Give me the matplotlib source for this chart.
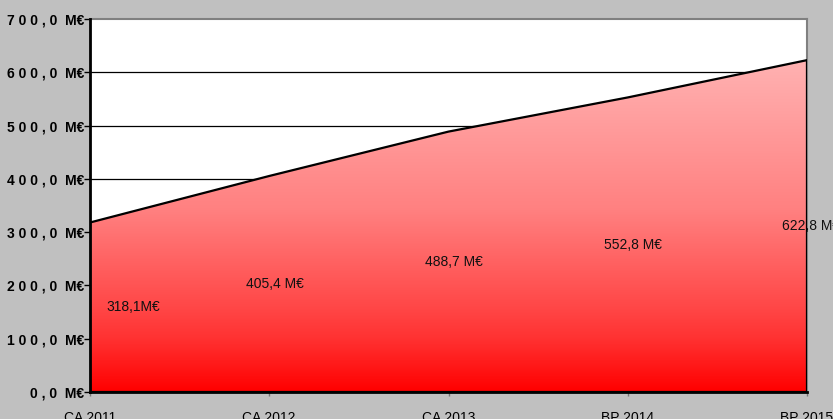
import matplotlib
matplotlib.use("Agg")
import matplotlib.pyplot as plt
import numpy as np
from matplotlib.colors import LinearSegmentedColormap
from matplotlib.patches import Polygon

categories = ["CA 2011", "CA 2012", "CA 2013", "BP 2014", "BP 2015"]
values = [318.1, 405.4, 488.7, 552.8, 622.8]
labels = ["318,1M€", "405,4 M€", "488,7 M€", "552,8 M€", "622,8 M€"]
yticks = [0, 100, 200, 300, 400, 500, 600, 700]

def ytick_label(v):
    s = f"{v:.1f}".replace(".", ",")
    return " ".join(s) + "  M€"

fig = plt.figure(figsize=(8.33, 4.19), dpi=100, facecolor="#C0C0C0")
ax = fig.add_axes([90/833, 1-392/419, (807-90)/833, (392-19)/419])
ax.set_facecolor("white")
x = np.arange(len(categories))
ax.set_xlim(0, len(categories)-1)
ax.set_ylim(0, 700)

for v in yticks[1:-1]:
    ax.axhline(v, color="black", lw=0.9, zorder=1)

# gradient fill
anchors = [(0.0, 0), (100/700, 50), (155/700, 70), (340/700, 128), (605/700, 175), (1.0, 190)]
cmap = LinearSegmentedColormap.from_list(
    "g", [(p, (1.0, g/255, g/255)) for p, g in anchors])
grad = np.linspace(0, 1, 512).reshape(-1, 1)
im = ax.imshow(grad, extent=[0, len(categories)-1, 0, 700], origin="lower",
               aspect="auto", cmap=cmap, zorder=2)
verts = [(0, 0)] + list(zip(x, values)) + [(x[-1], 0)]
poly = Polygon(verts, closed=True, facecolor="none", edgecolor="black", lw=1.6, zorder=3)
ax.add_patch(poly)
im.set_clip_path(poly)

for xi, v, lab in zip(x, values, labels):
    ax.text(xi + (0.24 if xi == 0 else 0.03), v/2, lab, ha="center" if xi < 4 else "left",
            va="center", fontsize=10, family="Liberation Sans", color="#111111",
            zorder=4, clip_on=False)
ax.texts[-1].set_position((x[-1] - 0.14, values[-1]/2))

ax.set_yticks(yticks)
ax.set_yticklabels([ytick_label(v) for v in yticks], fontweight="bold",
                   family="Liberation Sans", fontsize=10)
ax.set_xticks(x)
ax.set_xticklabels(categories, family="Liberation Sans", fontsize=10)
ax.tick_params(axis="y", length=4, width=1, pad=0)
ax.tick_params(axis="x", length=3, width=1, pad=11, color="#777777")

for s in ["top", "right"]:
    ax.spines[s].set_color("#808080")
    ax.spines[s].set_linewidth(1.5)
for s in ["left", "bottom"]:
    ax.spines[s].set_color("black")
    ax.spines[s].set_linewidth(2)
    ax.spines[s].set_zorder(5)

fig.savefig("out.png", dpi=100, facecolor=fig.get_facecolor())
